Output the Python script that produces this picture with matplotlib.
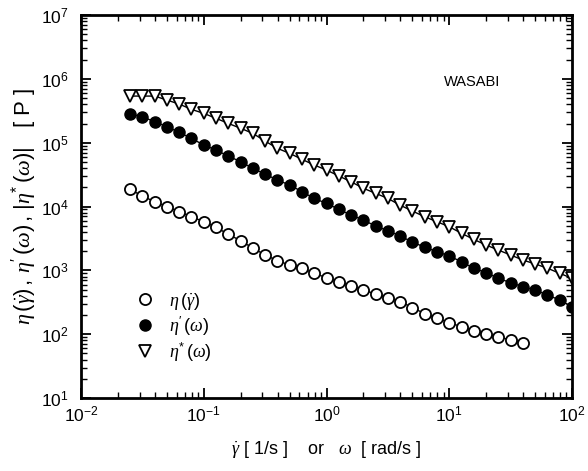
import numpy as np
import matplotlib.pyplot as plt
from matplotlib.ticker import LogLocator, NullFormatter

plt.rcParams["font.family"] = ["Liberation Sans", "DejaVu Sans"]
plt.rcParams["mathtext.fontset"] = "custom"
plt.rcParams["mathtext.rm"] = "Liberation Sans"
plt.rcParams["mathtext.it"] = "Liberation Serif:italic"
plt.rcParams["mathtext.bf"] = "Liberation Sans:bold"
plt.rcParams["axes.unicode_minus"] = False

# --- Data ---
omega = [0.0251, 0.0316, 0.0398, 0.0501, 0.0631, 0.0794, 0.1, 0.126, 0.158,
         0.2, 0.251, 0.316, 0.398, 0.501, 0.631, 0.794, 1.0, 1.26, 1.58,
         2.0, 2.51, 3.16, 3.98, 5.01, 6.31, 7.94, 10.0, 12.6, 15.8, 20.0,
         25.1, 31.6, 39.8, 50.1, 63.1, 79.4, 100.0]
shear_rate = omega[:33]

eta_steady = [1.86e4, 1.46e4, 1.19e4, 9.9e3, 8.3e3, 6.9e3, 5.8e3, 4.7e3,
              3.7e3, 2.9e3, 2.24e3, 1.74e3, 1.42e3, 1.21e3, 1.08e3, 8.98e2,
              7.66e2, 6.63e2, 5.68e2, 4.92e2, 4.26e2, 3.70e2, 3.24e2, 2.60e2,
              2.10e2, 1.77e2, 1.51e2, 1.31e2, 1.13e2, 1.00e2, 9.1e1, 8.1e1, 7.2e1]

eta_dyn = [2.81e5, 2.55e5, 2.13e5, 1.78e5, 1.45e5, 1.17e5, 9.19e4, 7.67e4,
           6.18e4, 5.03e4, 3.96e4, 3.23e4, 2.60e4, 2.17e4, 1.71e4, 1.34e4,
           1.12e4, 9.03e3, 7.36e3, 6.14e3, 4.94e3, 4.18e3, 3.45e3, 2.78e3,
           2.30e3, 1.96e3, 1.68e3, 1.36e3, 1.08e3, 9.18e2, 7.50e2, 6.40e2,
           5.54e2, 4.92e2, 4.10e2, 3.43e2, 2.69e2]

eta_complex = [5.38e5, 5.38e5, 5.38e5, 4.66e5, 4.03e5, 3.33e5, 2.88e5, 2.41e5,
               2.01e5, 1.68e5, 1.40e5, 1.06e5, 8.16e4, 6.81e4, 5.49e4, 4.47e4,
               3.73e4, 3.01e4, 2.45e4, 1.93e4, 1.61e4, 1.34e4, 1.05e4, 8.49e3,
               6.92e3, 5.78e3, 4.82e3, 3.80e3, 3.06e3, 2.49e3, 2.08e3, 1.74e3,
               1.45e3, 1.26e3, 1.08e3, 8.98e2, 7.50e2]

# --- Plot ---
fig = plt.figure(figsize=(5.88, 4.71), dpi=100)
ax = fig.add_axes([0.1378, 0.155, 0.835, 0.813])

# thin connecting lines, then the markers
for x, y in [(shear_rate, eta_steady), (omega, eta_dyn), (omega, eta_complex)]:
    ax.plot(x, y, "-", color="black", lw=1.0)

ax.plot(shear_rate, eta_steady, "o", ls="none", mfc="white", mec="black",
        ms=8, mew=1.3, label=r"$\eta\,(\dot{\gamma})$")
ax.plot(omega, eta_dyn, "o", ls="none", mfc="black", mec="black",
        ms=8, mew=1.0, label=r"$\eta'\,(\omega)$")
ax.plot(omega, eta_complex, "v", ls="none", mfc="white", mec="black",
        ms=8.5, mew=1.3, label=r"$\eta^{*}\,(\omega)$")

ax.set_xscale("log")
ax.set_yscale("log")
ax.set_xlim(1e-2, 1e2)
ax.set_ylim(1e1, 1e7)

ax.xaxis.set_major_locator(LogLocator(base=10, numticks=10))
ax.yaxis.set_major_locator(LogLocator(base=10, numticks=10))
ax.xaxis.set_minor_locator(LogLocator(base=10, subs=np.arange(2, 10), numticks=20))
ax.yaxis.set_minor_locator(LogLocator(base=10, subs=np.arange(2, 10), numticks=20))
ax.xaxis.set_minor_formatter(NullFormatter())
ax.yaxis.set_minor_formatter(NullFormatter())

ax.tick_params(which="both", direction="in", top=True, right=True, labelsize=12.5)
ax.tick_params(which="major", length=7, width=1.3)
ax.tick_params(which="minor", length=4, width=1.0)
ax.tick_params(axis="x", pad=5)
ax.tick_params(axis="y", pad=9)
for sp in ax.spines.values():
    sp.set_linewidth(2.0)

ax.set_xlabel(r"$\dot{\gamma}$ [ 1/s ]    or   $\omega$  [ rad/s ]", fontsize=13, labelpad=10)
ax.set_ylabel(r"$\eta\,(\dot{\gamma})\,,\,\eta'\,(\omega)\,,\,|\eta^{*}\,(\omega)|$   [ P ]",
              fontsize=16, labelpad=1)

ax.text(0.796, 0.825, "WASABI", transform=ax.transAxes, fontsize=10.5, ha="center", va="center")

ax.legend(loc="lower left", bbox_to_anchor=(0.079, 0.047), frameon=False, fontsize=13,
          handlelength=1.0, handletextpad=0.85, labelspacing=0.15)

plt.savefig("out.png", dpi=100)
plt.close()
